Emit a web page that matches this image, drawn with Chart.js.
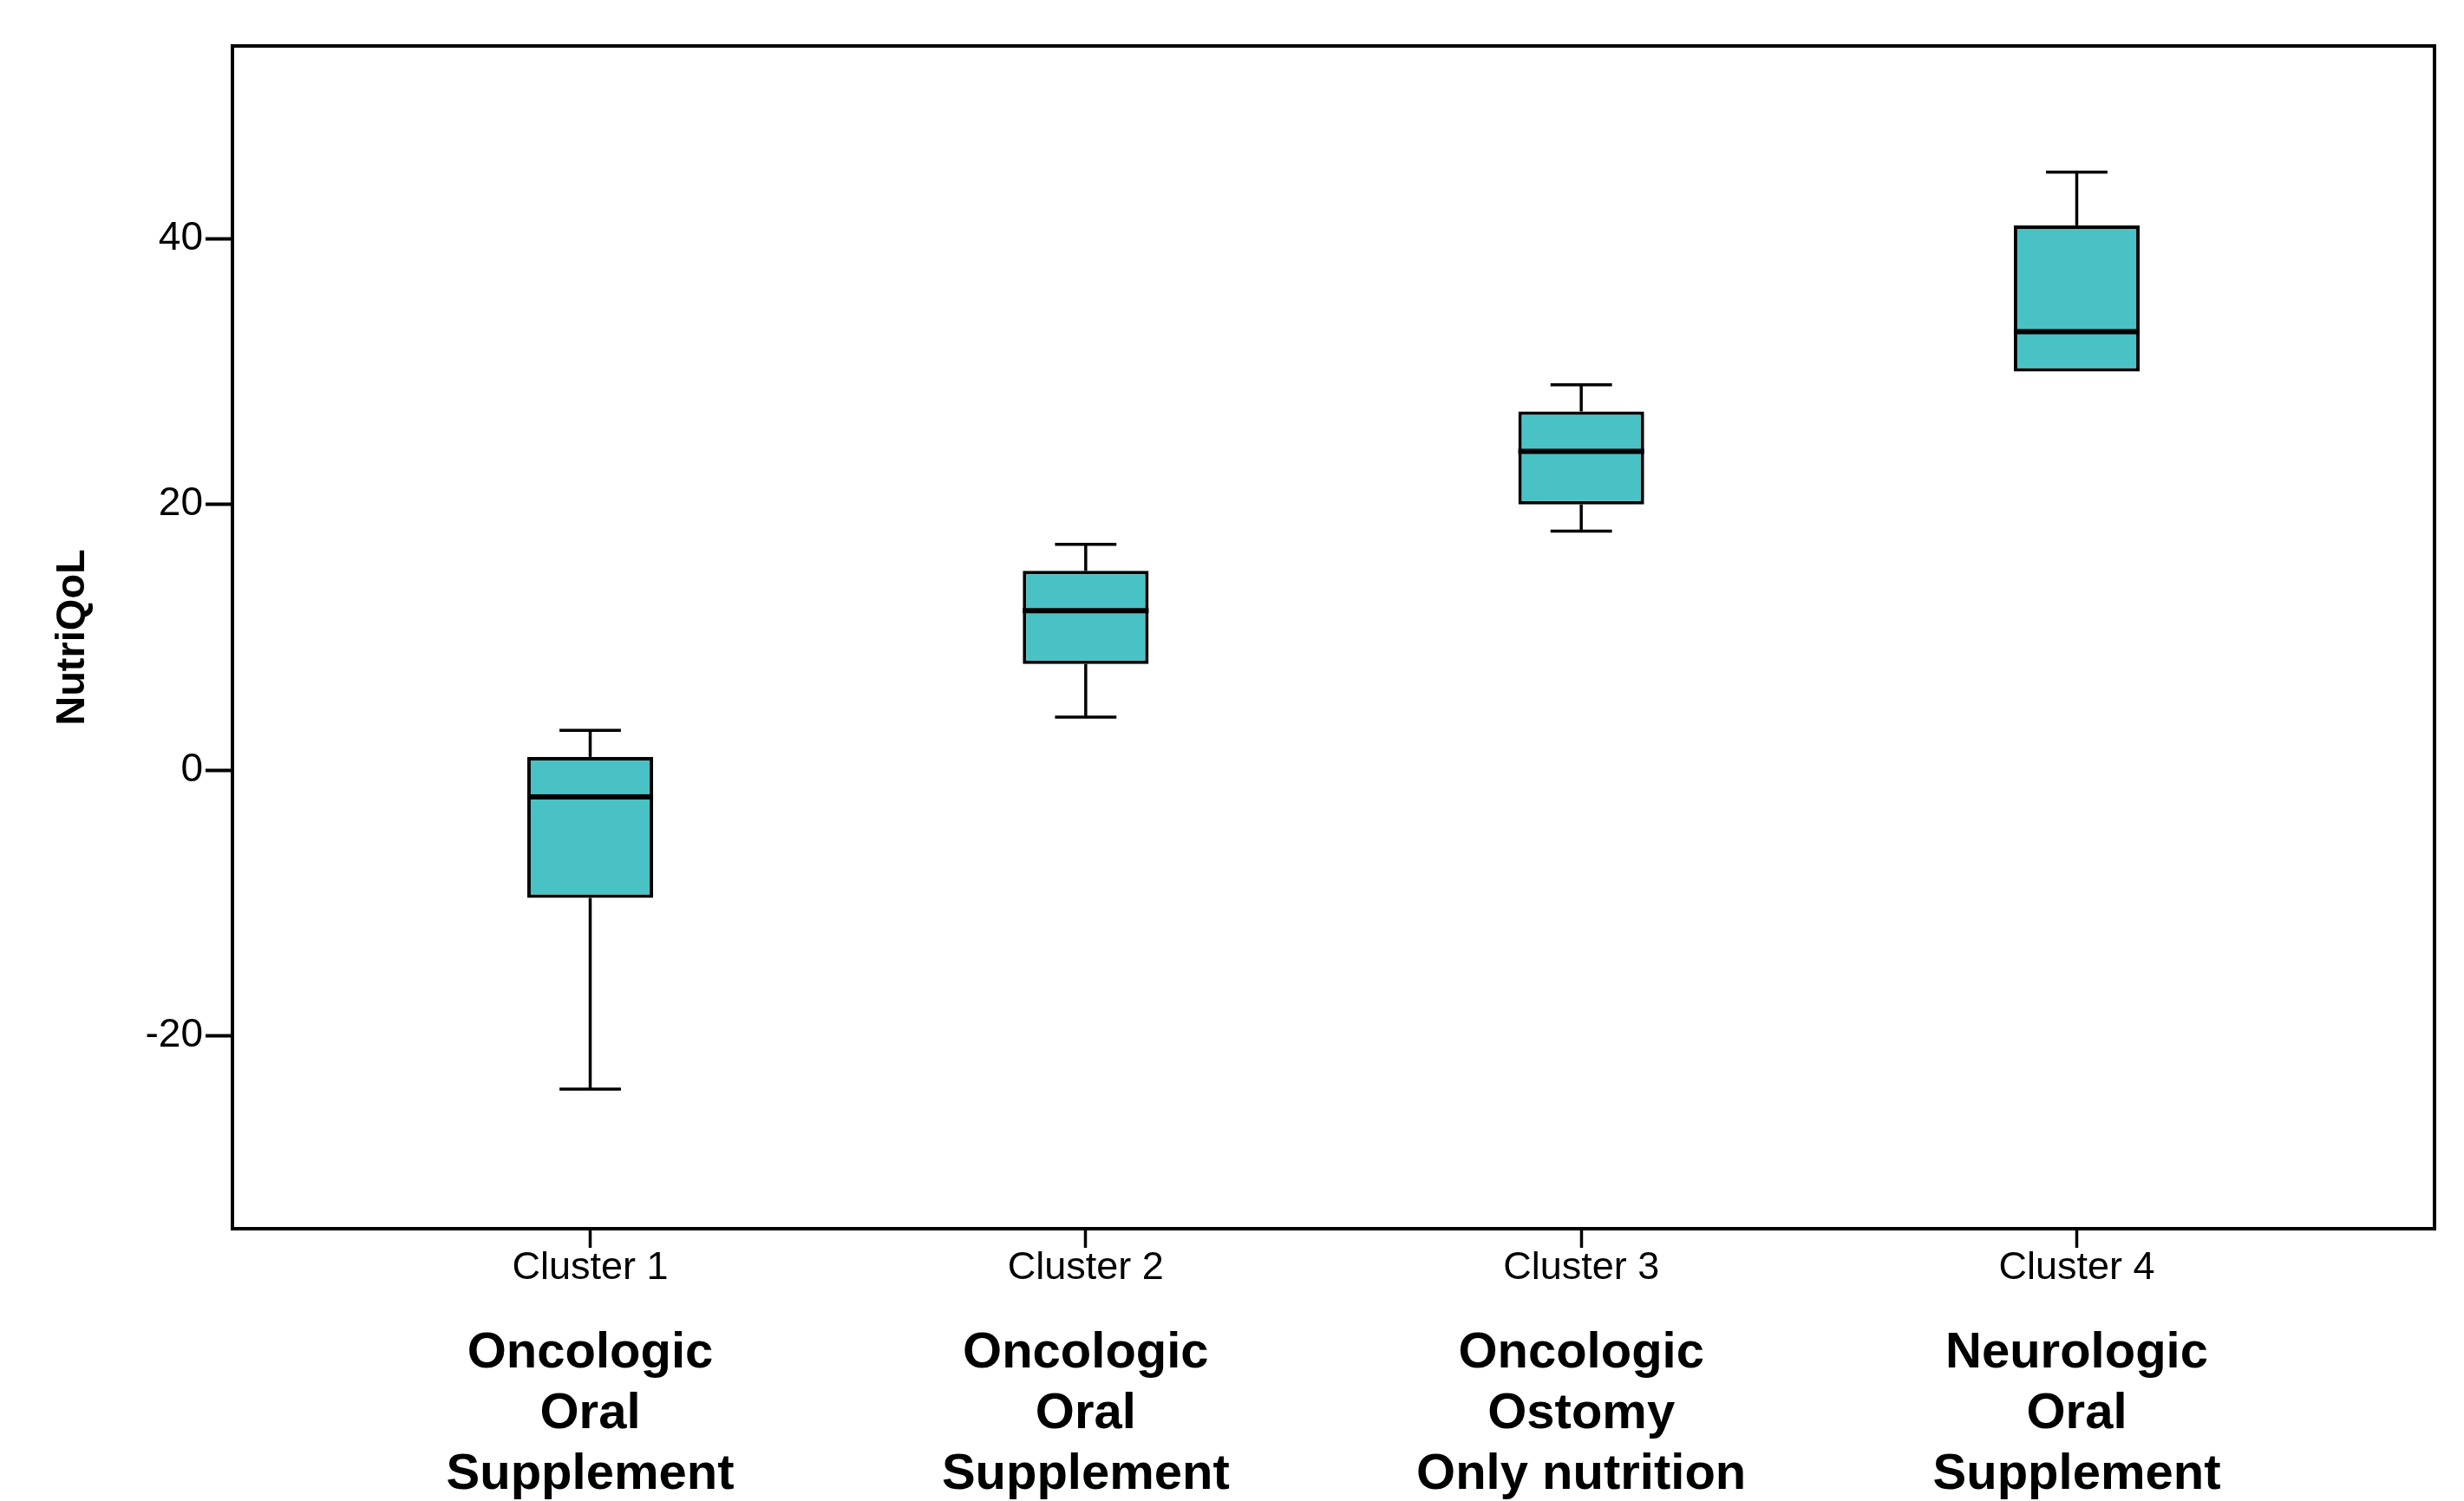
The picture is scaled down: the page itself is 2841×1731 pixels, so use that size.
<!DOCTYPE html>
<html>
<head>
<meta charset="utf-8">
<script src="https://cdn.jsdelivr.net/npm/chart.js"></script>
<style>
    html, body { margin: 0; padding: 0; background: #fff; }
    canvas { display: block; }
</style>
</head>
<body>
<canvas id="chartNutri" width="2841" height="1731"></canvas>
<script>
// valores (boxplot NutriQoL por cluster)
const clusterNomes = ['Cluster 1', 'Cluster 2', 'Cluster 3', 'Cluster 4'];
const clusterGrupos = [
    ['Oncologic', 'Oral', 'Supplement'],
    ['Oncologic', 'Oral', 'Supplement'],
    ['Oncologic', 'Ostomy', 'Only nutrition'],
    ['Neurologic', 'Oral', 'Supplement']
];
const clusterPos = [1, 2, 3, 4];
const minimo = [-24, 4, 18, 30];
const quartil1 = [-9.6, 8, 20, 30];
const mediana = [-2, 12, 24, 33];
const quartil3 = [1, 15, 27, 41];
const maximo = [3, 17, 29, 45];
const yTicks = [-20, 0, 20, 40];

const COR_CAIXA = '#49C2C5';

function linha(ctx, x1, y1, x2, y2) {
    ctx.beginPath();
    ctx.moveTo(x1, y1);
    ctx.lineTo(x2, y2);
    ctx.stroke();
}

const bigodes = {
    id: 'bigodes',
    beforeDatasetsDraw(chart) {
        const { ctx, scales: { x, y } } = chart;
        ctx.save();
        ctx.strokeStyle = '#000';
        ctx.lineWidth = 3.5;
        clusterPos.forEach((pos, i) => {
            const cx = x.getPixelForValue(pos);
            const capE = x.getPixelForValue(pos - 0.062);
            const capD = x.getPixelForValue(pos + 0.062);
            if (maximo[i] > quartil3[i]) {
                linha(ctx, cx, y.getPixelForValue(quartil3[i]), cx, y.getPixelForValue(maximo[i]));
                linha(ctx, capE, y.getPixelForValue(maximo[i]), capD, y.getPixelForValue(maximo[i]));
            }
            if (minimo[i] < quartil1[i]) {
                linha(ctx, cx, y.getPixelForValue(quartil1[i]), cx, y.getPixelForValue(minimo[i]));
                linha(ctx, capE, y.getPixelForValue(minimo[i]), capD, y.getPixelForValue(minimo[i]));
            }
        });
        ctx.restore();
    },
    afterDatasetsDraw(chart) {
        const { ctx, scales: { y }, chartArea } = chart;
        const meta = chart.getDatasetMeta(0);
        ctx.save();
        ctx.strokeStyle = '#000';
        ctx.lineWidth = 6;
        meta.data.forEach((bar, i) => {
            const my = y.getPixelForValue(mediana[i]);
            linha(ctx, bar.x - bar.width / 2, my, bar.x + bar.width / 2, my);
        });
        // moldura
        ctx.lineWidth = 4;
        ctx.strokeRect(chartArea.left, chartArea.top, chartArea.width, chartArea.height);
        ctx.restore();
    }
};

const fundoBranco = {
    id: 'fundoBranco',
    beforeDraw(chart) {
        const ctx = chart.ctx;
        ctx.save();
        ctx.fillStyle = '#fff';
        ctx.fillRect(0, 0, chart.width, chart.height);
        ctx.restore();
    }
};

const ctx = document.getElementById('chartNutri').getContext('2d');
new Chart(ctx, {
    type: 'bar',
    data: {
        datasets: [{
            label: 'NutriQoL',
            data: clusterPos.map((p, i) => ({ x: p, y: [quartil1[i], quartil3[i]] })),
            backgroundColor: COR_CAIXA,
            borderColor: '#000',
            borderWidth: 4,
            borderSkipped: false,
            categoryPercentage: 1,
            barPercentage: 0.254,
            xAxisID: 'x',
            yAxisID: 'y'
        }]
    },
    options: {
        responsive: false,
        devicePixelRatio: 1,
        animation: false,
        layout: { padding: { top: 53, right: 34, left: 0, bottom: 0 } },
        plugins: {
            legend: { display: false },
            tooltip: { enabled: false }
        },
        scales: {
            x: {
                type: 'linear',
                position: 'bottom',
                weight: 0,
                offset: false,
                min: 0.278,
                max: 4.722,
                afterBuildTicks: s => { s.ticks = clusterPos.map(v => ({ value: v })); },
                afterFit: s => { s.height = 62; },
                grid: { offset: false, drawOnChartArea: false, tickLength: 22, tickWidth: 3.5, tickColor: '#000' },
                border: { display: true, color: '#000', width: 4 },
                ticks: {
                    color: '#000',
                    padding: 1,
                    maxRotation: 0,
                    autoSkip: false,
                    font: { family: '"Liberation Sans", Arial, sans-serif', size: 45, lineHeight: 1 },
                    callback: v => clusterNomes[clusterPos.indexOf(v)]
                }
            },
            x2: {
                type: 'linear',
                position: 'bottom',
                weight: 1,
                offset: false,
                min: 0.278,
                max: 4.722,
                afterBuildTicks: s => { s.ticks = clusterPos.map(v => ({ value: v })); },
                afterFit: s => { s.height = 252; },
                grid: { display: false, offset: false },
                border: { display: false },
                ticks: {
                    color: '#000',
                    padding: 39,
                    maxRotation: 0,
                    autoSkip: false,
                    font: { family: '"Liberation Sans", Arial, sans-serif', size: 58, weight: 'bold', lineHeight: 70 / 58 },
                    callback: v => clusterGrupos[clusterPos.indexOf(v)]
                }
            },
            y: {
                type: 'linear',
                min: -34.5,
                max: 54.5,
                afterBuildTicks: s => { s.ticks = yTicks.map(v => ({ value: v })); },
                afterFit: s => { s.width = 268; },
                grid: { drawOnChartArea: false, tickLength: 31, tickWidth: 4, tickColor: '#000' },
                border: { display: true, color: '#000', width: 4 },
                ticks: {
                    color: '#000',
                    padding: 3,
                    font: { family: '"Liberation Sans", Arial, sans-serif', size: 46 }
                },
                title: {
                    display: true,
                    text: 'NutriQoL',
                    color: '#000',
                    padding: { top: 56, bottom: 0 },
                    font: { family: '"Liberation Sans", Arial, sans-serif', size: 47, weight: 'bold' }
                }
            }
        }
    },
    plugins: [fundoBranco, bigodes]
});
</script>
</body>
</html>
